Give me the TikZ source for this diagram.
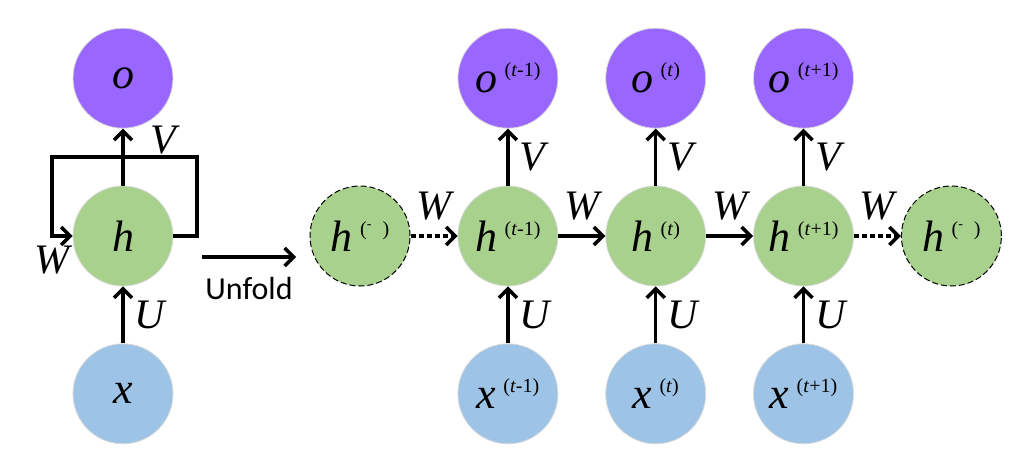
\documentclass[tikz,border=0pt]{standalone}
\usepackage{fontspec}
\setmainfont{Liberation Serif}
\newfontfamily\uifont{Carlito}
\usepackage{tikz}
\usetikzlibrary{arrows.meta, positioning, calc}
\usepackage{xcolor}
\definecolor{outpurple}{HTML}{9966FF}
\definecolor{hidgreen}{HTML}{A9D18E}
\definecolor{inblue}{HTML}{9DC3E6}
\newcommand{\sym}[2]{\textit{#1}\,\raisebox{8pt}{\fontsize{10}{10}\selectfont #2}}

\begin{document}
\begin{tikzpicture}[
    x=0.5pt, y=-0.5pt,
    node distance=28.5pt and 23.5pt,
    cell/.style={circle, draw=gray!30, line width=0.4pt, minimum size=50pt, inner sep=0pt, font=\fontsize{22}{22}\selectfont},
    outnode/.style={cell, fill=outpurple},
    hidnode/.style={cell, fill=hidgreen},
    ghost/.style={cell, fill=hidgreen, draw=black, dash pattern=on 3pt off 1.5pt, line width=0.5pt},
    innode/.style={cell, fill=inblue},
    lbl/.style={font=\fontsize{21}{21}\selectfont\itshape, inner sep=1pt},
    arr/.style={-{Straight Barb[length=4.5pt, width=9pt]}, line width=1.75pt},
    darr/.style={arr, dash pattern=on 2.5pt off 1.5pt}
]
\useasboundingbox (0,0) rectangle (1036,466);

% folded network
\node (h) [hidnode] at (123,236) {\textit{h}};
\node (o) [outnode, above=of h] {\textit{o}};
\node (x) [innode, below=of h] {\textit{x}};
\coordinate (loopR) at (197,157);
\coordinate (loopL) at (52,157);
\draw[arr] (x) -- node[lbl, right=4pt] {U} (h);
\draw[arr] (h) -- node[lbl, right=12pt, pos=0.8] {V} (o);
\draw[arr] (h.east) -| (loopR) -- (loopL) |- node[lbl, below=3pt] {W} (h.west);

% unfold arrow
\coordinate (ufA) at (202,257);
\coordinate (ufB) at (296,257);
\draw[arr] (ufA) -- node[below=6pt, font=\uifont\fontsize{16}{16}\selectfont] {Unfold} (ufB);

% unfolded network
\node (hprev) [ghost] at (360,236) {\sym{h}{(\textsuperscript{-}\ \ )}};
\node (h1) [hidnode, right=of hprev] {\sym{h}{(\textit{t}-1)}};
\node (h2) [hidnode, right=of h1] {\sym{h}{(\textit{t})}};
\node (h3) [hidnode, right=of h2] {\sym{h}{(\textit{t}+1)}};
\node (hnext) [ghost, right=of h3] {\sym{h}{(\textsuperscript{-}\ \ )}};

\node (o1) [outnode, above=of h1] {\sym{o}{(\textit{t}-1)}};
\node (o2) [outnode, above=of h2] {\sym{o}{(\textit{t})}};
\node (o3) [outnode, above=of h3] {\sym{o}{(\textit{t}+1)}};
\node (x1) [innode, below=of h1] {\sym{x}{(\textit{t}-1)}};
\node (x2) [innode, below=of h2] {\sym{x}{(\textit{t})}};
\node (x3) [innode, below=of h3] {\sym{x}{(\textit{t}+1)}};

\foreach \i in {1,2,3} {
  \draw[arr] (x\i) -- node[lbl, right=4pt] {U} (h\i);
  \draw[arr] (h\i) -- node[lbl, right=4pt] {V} (o\i);
}
\draw[darr] (hprev) -- node[lbl, above=6pt] {W} (h1);
\draw[arr] (h1) -- node[lbl, above=6pt] {W} (h2);
\draw[arr] (h2) -- node[lbl, above=6pt] {W} (h3);
\draw[darr] (h3) -- node[lbl, above=6pt] {W} (hnext);
\end{tikzpicture}
\end{document}
